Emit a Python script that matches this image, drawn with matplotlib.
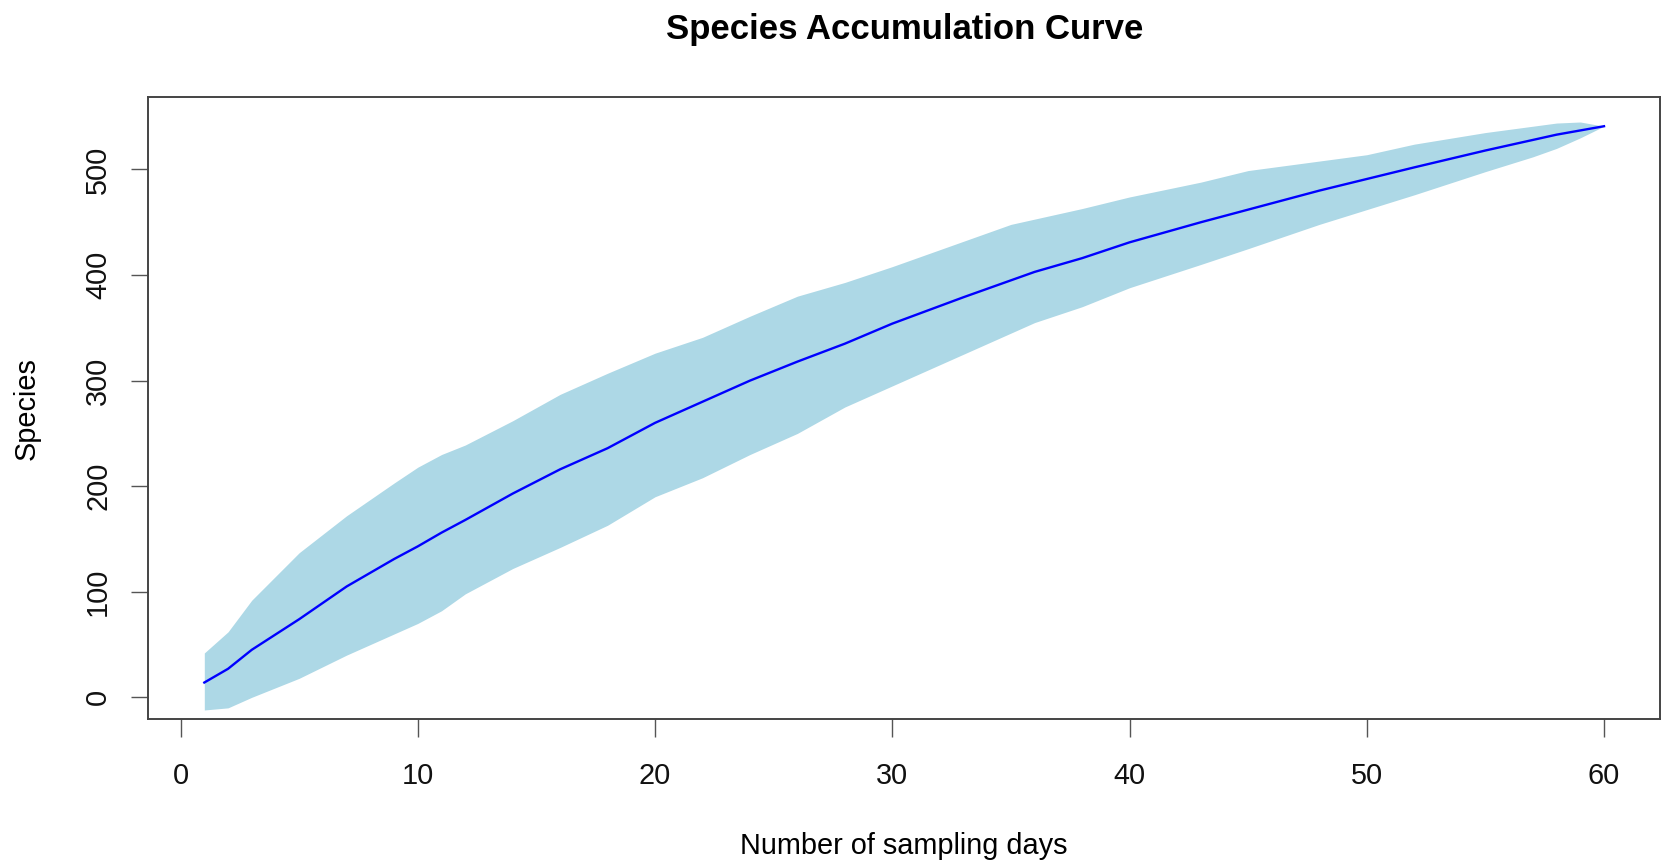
"""
Species accumulation curve with a shaded band around the mean
"""

import matplotlib
matplotlib.use('Agg')
from matplotlib import pyplot as plt


days = [1, 2, 3, 5, 7, 9, 10, 11, 12, 14, 16, 18, 20, 22, 24, 26, 28, 30,
        33, 35, 36, 38, 40, 43, 45, 48, 50, 52, 55, 57, 58, 59, 60]

species_mean = [14, 27, 45, 74, 105, 131, 143, 156, 168, 193, 216, 236, 260,
                280, 300, 318, 335, 354, 379, 395, 403, 416, 431, 450, 462,
                480, 491, 502, 518, 528, 533, 537, 541]

species_upper = [42, 62, 92, 137, 172, 203, 218, 230, 239, 262, 287, 307, 326,
                 341, 361, 380, 393, 408, 432, 448, 453, 463, 474, 488, 499,
                 508, 514, 524, 535, 541, 544, 545, 541]

species_lower = [-12, -10, 0, 18, 40, 60, 70, 82, 98, 122, 142, 163, 190,
                 208, 230, 250, 275, 295, 325, 345, 355, 370, 388, 410, 425,
                 448, 462, 476, 498, 512, 520, 530, 541]

x_ticks = [0, 10, 20, 30, 40, 50, 60]
y_ticks = [0, 100, 200, 300, 400, 500]


def main():
    plt.rcParams['font.family'] = ['Liberation Sans', 'DejaVu Sans']

    fig = plt.figure(figsize=(16.61, 8.63), dpi=100)
    ax = fig.add_axes([0.0893, 0.1665, 0.9101, 0.7213])

    ax.fill_between(days, species_lower, species_upper,
                    color='#add8e6', linewidth=0)
    ax.plot(days, species_mean, color='#0000ff', linewidth=1.7)

    ax.set_xlim(-1.36, 62.36)
    ax.set_ylim(-20.84, 568.84)

    ax.set_xticks(x_ticks)
    ax.set_yticks(y_ticks)
    ax.set_yticklabels([str(v) for v in y_ticks], rotation=90, va='center')

    ax.tick_params(length=12.6, width=1.0, color='#555555',
                   labelsize=20.8, labelcolor='#111111')
    ax.tick_params(axis='x', pad=17.8)
    ax.tick_params(axis='y', pad=13.5)

    for spine in ax.spines.values():
        spine.set_color('#444444')
        spine.set_linewidth(1.4)

    # title and axis labels are centred on the plot box, as R does
    fig.text(0.5444, 0.9546, 'Species Accumulation Curve',
             ha='center', va='baseline', fontsize=25, fontweight='bold')
    fig.text(0.5444, 0.011, 'Number of sampling days',
             ha='center', va='baseline', fontsize=20.8)
    fig.text(0.0163, 0.527, 'Species', rotation=90,
             ha='center', va='center', fontsize=20.8)

    fig.savefig('out.png', dpi=100)


if __name__ == '__main__':
    main()
